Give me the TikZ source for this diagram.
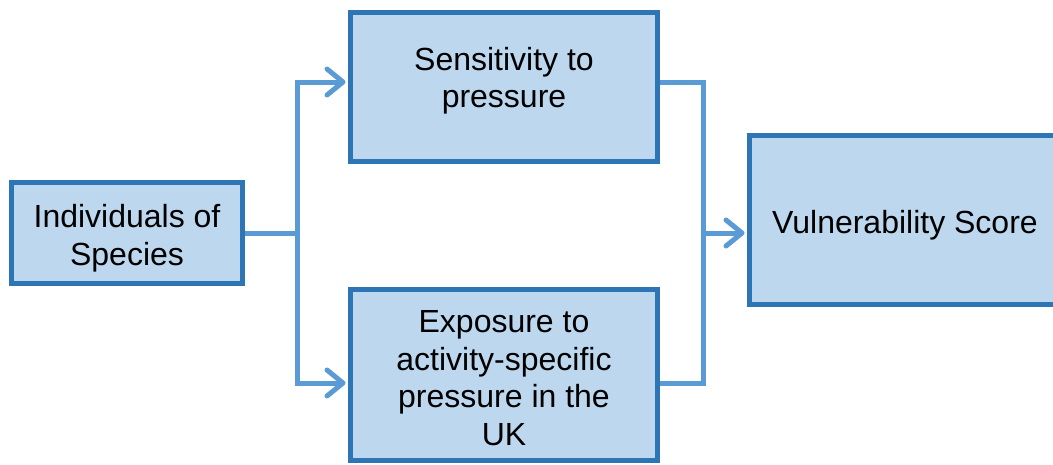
\documentclass[tikz,border=0pt]{standalone}
\usepackage{fontspec}
\setmainfont{Liberation Sans}
\usetikzlibrary{arrows.meta}
\definecolor{boxfill}{HTML}{BDD7EE}
\definecolor{boxline}{HTML}{2E75B6}
\definecolor{linkblue}{HTML}{5B9BD5}
\begin{document}
\begin{tikzpicture}[
  x=1pt, y=-1pt,
  box/.style={draw=boxline, fill=boxfill, line width=5pt, align=center, inner sep=0pt, font=\fontsize{32}{37.5}\selectfont},
  link/.style={draw=linkblue, line width=5pt},
  tip/.style={-{Straight Barb[length=16pt,width=26pt,round]}, shorten >=2.5pt}
]
\useasboundingbox (0,0) rectangle (1053,464);
\node[box, minimum width=231pt, minimum height=101pt] (ind) at (127,233) {Individuals of\\Species\\[-41.5pt]};
\node[box, minimum width=307pt, minimum height=149pt] (sens) at (504,87) {Sensitivity to\\pressure\\[-18.5pt]};
\node[box, minimum width=307pt, minimum height=171pt] (expo) at (504,375) {Exposure to\\activity-specific\\pressure in the\\UK\\[-43.5pt]};
\node[box, minimum width=311pt, minimum height=169pt] (vul) at (905,220) {Vulnerability Score\\[-41.5pt]};
\coordinate (split) at (297,233);
\coordinate (merge) at (703,233);
\draw[link] (ind.east) -- (split);
\draw[link, tip] (split) |- ([yshift=5pt]sens.west);
\draw[link, tip] (split) |- ([yshift=-8pt]expo.west);
\draw[link] ([yshift=5pt]sens.east) -| (merge) |- ([yshift=-8pt]expo.east);
\draw[link, tip] (merge) -- (merge -| vul.west);
\end{tikzpicture}
\end{document}
